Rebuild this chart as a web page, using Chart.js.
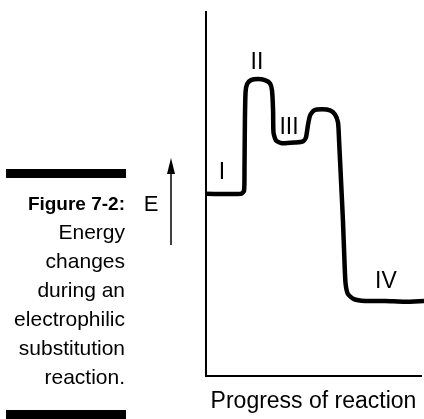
<!DOCTYPE html>
<html>
<head>
<meta charset="utf-8">
<script src="https://cdn.jsdelivr.net/npm/chart.js@4"></script>
<style>
  html, body { margin: 0; padding: 0; background: #fff; }
  canvas { display: block; }
</style>
</head>
<body>
<canvas id="chart" width="424" height="419"></canvas>
<script>
// energy profile, x = progress (0-100), y = energy (0-100)
const progress = [0, 16.3, 17.7, 17.9, 18.1, 18.4, 19.1, 20.9, 24.2, 27.4, 29.8, 30.7, 31.2, 31.4, 32.6, 35.3, 41.4, 45.1, 46.5, 47.4, 48.4, 50.2, 54.0, 57.7, 60.0, 61.4, 61.9, 62.8, 63.7, 64.4, 64.9, 66.0, 68.8, 74.0, 83.3, 92.6, 101.4];
const energy = [50.1, 50.1, 51.0, 56.5, 70.2, 78.0, 80.2, 81.3, 81.6, 81.3, 80.4, 78.5, 73.0, 66.9, 64.7, 64.0, 64.2, 64.5, 65.6, 68.9, 71.6, 73.0, 73.3, 73.0, 71.9, 69.7, 64.7, 53.7, 42.7, 31.7, 25.6, 22.6, 21.2, 20.7, 20.7, 20.5, 20.7];

// stage markers
const stageLabels = ["I", "II", "III", "IV"];
const stageX = [7.4, 23.7, 38.6, 83.7];
const stageY = [55.9, 86.2, 68.3, 25.9];

const captionTitle = "Figure 7-2:";
const captionLines = ["Energy", "changes", "during an", "electrophilic", "substitution", "reaction."];
const xTitle = "Progress of reaction";
const yTitle = "E";

const FONT = '"Liberation Sans", Arial, Helvetica, sans-serif';

const points = progress.map((x, i) => ({ x: x, y: energy[i] }));

const extras = {
  id: 'extras',
  afterDatasetsDraw(chart) {
    const ctx = chart.ctx;
    const xs = chart.scales.x, ys = chart.scales.y;
    ctx.save();
    ctx.fillStyle = '#000';

    // stage numerals
    ctx.font = '23px ' + FONT;
    ctx.textAlign = 'center';
    ctx.textBaseline = 'middle';
    stageLabels.forEach((t, i) => {
      ctx.fillText(t, xs.getPixelForValue(stageX[i]), ys.getPixelForValue(stageY[i]));
    });

    // side caption between two black bars
    ctx.fillRect(6, 169, 120, 9);
    ctx.fillRect(6, 410, 120, 9);
    ctx.textAlign = 'right';
    ctx.textBaseline = 'alphabetic';
    ctx.font = 'bold 19px ' + FONT;
    ctx.fillText(captionTitle, 125, 210);
    ctx.font = '21px ' + FONT;
    captionLines.forEach((t, i) => ctx.fillText(t, 125, 239 + i * 29));

    // energy label with upward arrow
    ctx.textAlign = 'center';
    ctx.font = '22px ' + FONT;
    ctx.fillText(yTitle, 151, 211);
    ctx.lineWidth = 1.5;
    ctx.beginPath();
    ctx.moveTo(171, 245);
    ctx.lineTo(171, 170);
    ctx.stroke();
    ctx.beginPath();
    ctx.moveTo(171, 158);
    ctx.lineTo(175, 174);
    ctx.lineTo(167, 174);
    ctx.closePath();
    ctx.fill();
    ctx.restore();
  }
};

new Chart(document.getElementById('chart'), {
  type: 'line',
  data: {
    datasets: [{
      data: points,
      borderColor: '#000',
      borderWidth: 4.5,
      pointRadius: 0,
      tension: 0.2,
      fill: false,
      clip: false
    }]
  },
  options: {
    responsive: false,
    animation: false,
    layout: { padding: { left: 198, top: 12, right: 3, bottom: 0 } },
    plugins: { legend: { display: false }, tooltip: { enabled: false } },
    scales: {
      x: {
        type: 'linear',
        min: 0,
        max: 100,
        grid: { display: false },
        border: { display: true, color: '#000', width: 2 },
        ticks: { display: false },
        title: {
          display: true,
          text: xTitle,
          color: '#000',
          font: { family: FONT, size: 23 },
          padding: { top: 3, bottom: 4 }
        }
      },
      y: {
        min: 0,
        max: 100,
        grid: { display: false },
        border: { display: true, color: '#000', width: 2 },
        ticks: { display: false }
      }
    }
  },
  plugins: [extras]
});
</script>
</body>
</html>
